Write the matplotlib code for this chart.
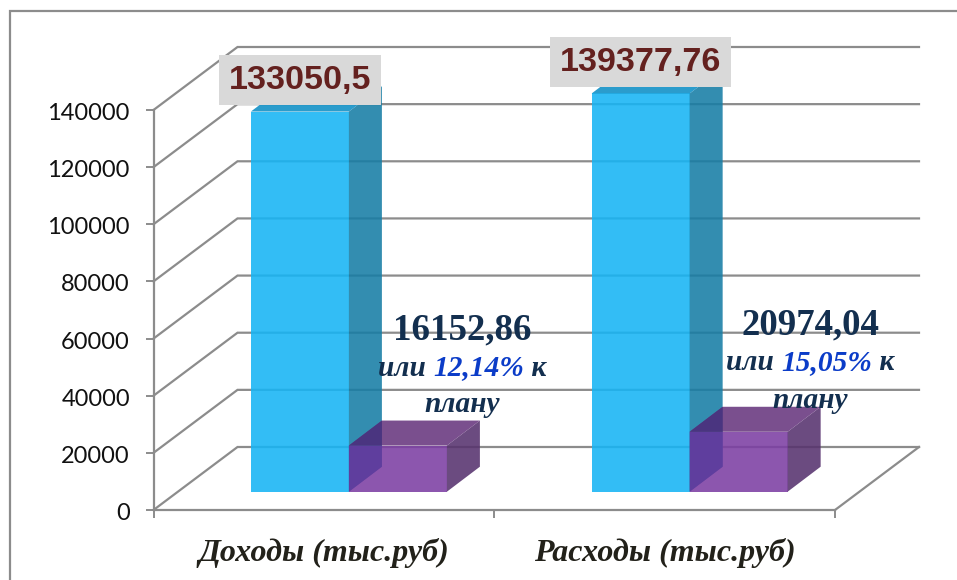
import matplotlib
matplotlib.use("Agg")
import matplotlib.pyplot as plt
from matplotlib.lines import Line2D
from matplotlib.patches import Polygon
from matplotlib.transforms import Affine2D

CATEGORIES = ["Доходы (тыс.руб)", "Расходы (тыс.руб)"]
TOTALS = [133050.5, 139377.76]
ACTUALS = [16152.86, 20974.04]
TOTAL_LABELS = ["133050,5", "139377,76"]
ACTUAL_LABELS = ["16152,86", "20974,04"]
PERCENT_LABELS = ["12,14%", "15,05%"]
Y_TICKS = [0, 20000, 40000, 60000, 80000, 100000, 120000, 140000]

W, H = 957, 580
GREY = "#8c8c8c"
ALPHA = 0.88
BLUE = ("#16B4F4", "#177DA5", "#0D8EC5")  # front, side, top
PURPLE = ("#7C3EA3", "#57326E", "#68377F")
NAVY = "#132F4F"


def px(x, y):
    return x / W, 1 - y / H


fig = plt.figure(figsize=(W / 100, H / 100), dpi=100)
ax = fig.add_axes([153.5 / W, 70 / H, 681.5 / W, 400 / H])
ax.set_xlim(0, 2)
ax.set_ylim(0, 140000)
ax.patch.set_visible(False)

# pixel sizes of the fake 3d box, turned into data units
ux = 2 / 681.5
uy = 140000 / 400
WALL_X, WALL_Y = 84 * ux, 63 * uy
BASE_X, BASE_Y = 24.4 * ux, 18.3 * uy
DEPTH_X, DEPTH_Y = 33 * ux, 25 * uy
BAR_W = 98 * ux
GAP = 73 * ux

# back wall and floor
for v in Y_TICKS:
    ax.plot([0, WALL_X, 2 + WALL_X], [v, v + WALL_Y, v + WALL_Y], color=GREY,
            lw=1.6, clip_on=False, zorder=1, solid_joinstyle="miter")
ax.plot([2, 2 + WALL_X], [0, WALL_Y], color=GREY, lw=1.6, clip_on=False, zorder=1)


def poly(points, color, z, alpha=ALPHA):
    ax.add_patch(Polygon(points, closed=True, facecolor=color, edgecolor="none",
                         alpha=alpha, clip_on=False, zorder=z))


def box(left, value, colors, z):
    x0, x1 = left, left + BAR_W
    y0, y1 = BASE_Y, BASE_Y + value
    poly([(x0, y0), (x1, y0), (x1, y1), (x0, y1)], colors[0], z)
    poly([(x1, y0), (x1 + DEPTH_X, y0 + DEPTH_Y), (x1 + DEPTH_X, y1 + DEPTH_Y), (x1, y1)],
         colors[1], z)
    poly([(x0, y1), (x1, y1), (x1 + DEPTH_X, y1 + DEPTH_Y), (x0 + DEPTH_X, y1 + DEPTH_Y)],
         colors[2], z)


for i in range(len(CATEGORIES)):
    left = i + BASE_X + GAP
    mid = left + BAR_W
    box(left, TOTALS[i], BLUE, 2)
    box(mid, ACTUALS[i], PURPLE, 3)
    # purple seen through the blue side
    y0, y1 = BASE_Y, BASE_Y + ACTUALS[i]
    poly([(mid, y0), (mid + DEPTH_X, y0 + DEPTH_Y), (mid + DEPTH_X, y1), (mid, y1)],
         "#5F3E9E", 4, alpha=1)
    poly([(mid, y1), (mid + DEPTH_X, y1 + DEPTH_Y), (mid + DEPTH_X, y1)],
         "#4A3580", 4, alpha=1)

# axes
for s in ("top", "right"):
    ax.spines[s].set_visible(False)
for s in ("left", "bottom"):
    ax.spines[s].set_color(GREY)
    ax.spines[s].set_linewidth(1.6)
ax.set_yticks(Y_TICKS)
ax.tick_params(axis="y", length=6, width=1.4, color=GREY, pad=11)
for t in ax.get_yticklabels():
    t.set_fontfamily("Lato")
    t.set_fontsize(17)
    t.set_color("#111111")
    t.set_transform(t.get_transform() + Affine2D().translate(0, -1.5))
ax.set_xticks([0, 1, 2])
ax.set_xticklabels([])
ax.tick_params(axis="x", which="major", length=6, width=1.4, color=GREY)
ax.set_xticks([0.5, 1.5], minor=True)
ax.set_xticklabels(CATEGORIES, minor=True, family="Liberation Serif", style="italic",
                   weight="bold", fontsize=23, color="#22211A")
ax.tick_params(axis="x", which="minor", length=0, pad=20)

# grey value labels above the tall bars
for i, lab in enumerate(TOTAL_LABELS):
    cx = i + BASE_X + GAP + BAR_W / 2
    top = BASE_Y + TOTALS[i]
    ax.annotate(lab, (cx, top), xytext=(0, 22.5), textcoords="offset points",
                ha="center", va="center", family="Liberation Sans", weight="bold",
                fontsize=24.6, color="#64211F", zorder=6, annotation_clip=False,
                bbox=dict(boxstyle="square,pad=0.28", facecolor="#D9D9D9", edgecolor="none"))

# navy labels next to the small bars
fig.canvas.draw()
renderer = fig.canvas.get_renderer()
NOTE_X = [462, 810]
NOTE_Y = [330, 325]
for i in range(2):
    cx, cy = NOTE_X[i], NOTE_Y[i]
    fig.text(*px(cx, cy), ACTUAL_LABELS[i], ha="center", va="center", family="Liberation Serif",
             weight="bold", fontsize=26.6, color=NAVY, zorder=7)
    pieces = [("или ", NAVY), (PERCENT_LABELS[i], "#0B3CC8"), (" к", NAVY)]
    texts = [fig.text(*px(0, cy + 38), p, va="center", family="Liberation Serif", style="italic",
                      weight="bold", fontsize=21.2, color=c, zorder=7) for p, c in pieces]
    widths = [t.get_window_extent(renderer).width for t in texts]
    x = cx - sum(widths) / 2
    for t, w in zip(texts, widths):
        t.set_position(px(x, cy + 38))
        x += w
    fig.text(*px(cx, cy + 75), "плану", ha="center", va="center", family="Liberation Serif",
             style="italic", weight="bold", fontsize=21.2, color=NAVY, zorder=7)

# outer chart frame, cut off at right and bottom
fig.add_artist(Line2D([px(10, 0)[0], px(10, 0)[0], 1], [0, px(0, 11)[1], px(0, 11)[1]],
                      color=GREY, lw=1.6, solid_joinstyle="miter"))

fig.savefig("out.png", dpi=100)
